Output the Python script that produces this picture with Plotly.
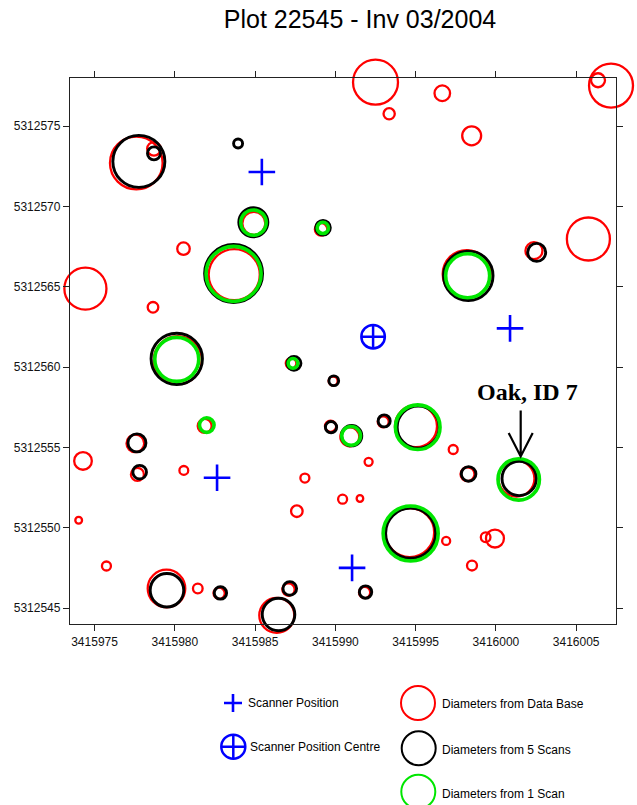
import plotly.graph_objects as go

# ---------------- data ----------------
# Diameters from Data Base (red)
db_x = [3415977.60, 3415978.70, 3415984.92, 3415989.11, 3415983.70, 3415980.54, 3415974.43,
        3415978.64, 3415980.18, 3415992.50, 3415993.35, 3415996.66, 3415998.49, 3416007.17,
        3416006.36, 3416005.76, 3416002.37, 3415998.18, 3415987.24, 3415981.86, 3415977.54,
        3415974.28, 3415977.67, 3415980.56, 3415988.10, 3415987.60, 3415974.01, 3415975.74,
        3415979.48, 3415981.43, 3415982.76, 3415987.08, 3415986.35, 3415989.86, 3415989.70,
        3415990.90, 3415992.98, 3415995.02, 3415997.34, 3415992.07, 3415998.23, 3416001.28,
        3415990.45, 3415991.53, 3415994.63, 3415996.90, 3415999.36, 3415999.94, 3415998.51,
        3415991.82]
db_y = [5312572.71, 5312573.59, 5312568.95, 5312568.58, 5312565.76, 5312567.38, 5312564.89,
        5312563.73, 5312560.44, 5312577.74, 5312575.77, 5312577.05, 5312574.40, 5312577.53,
        5312577.86, 5312567.98, 5312567.25, 5312565.80, 5312560.24, 5312556.35, 5312555.26,
        5312554.17, 5312553.33, 5312553.58, 5312553.10, 5312551.04, 5312550.48, 5312547.63,
        5312546.23, 5312546.23, 5312545.93, 5312546.16, 5312544.56, 5312559.14, 5312556.33,
        5312555.67, 5312556.60, 5312556.33, 5312554.88, 5312554.11, 5312553.34, 5312553.07,
        5312551.79, 5312551.83, 5312549.71, 5312549.19, 5312549.42, 5312549.34, 5312547.66,
        5312545.98]
db_d = [3.28, 0.85, 1.43, 0.78, 3.18, 0.78, 2.62,
        0.66, 2.99, 2.80, 0.70, 0.97, 1.18, 2.74,
        0.87, 2.68, 1.06, 2.99, 0.66, 0.87, 1.10,
        1.10, 0.81, 0.55, 0.56, 0.72, 0.42, 0.56,
        2.34, 0.60, 0.70, 0.77, 2.18, 0.56, 0.70,
        1.18, 0.69, 2.62, 0.56, 0.50, 0.87, 2.24,
        0.56, 0.41, 3.05, 0.50, 0.60, 1.12, 0.62,
        0.70]

# Diameters from 5 Scans (black)
s5_x = [3415977.76, 3415978.70, 3415983.94, 3415984.89, 3415989.23, 3415983.66, 3415980.12,
        3416002.54, 3415998.28, 3415987.42, 3415977.64, 3415977.81, 3415979.51, 3415982.84,
        3415987.16, 3415986.46, 3415989.90, 3415989.73, 3415991.01, 3415993.04, 3415995.16,
        3415998.30, 3416001.45, 3415994.69, 3415991.88]
s5_y = [5312572.81, 5312573.31, 5312573.92, 5312569.02, 5312568.68, 5312565.83, 5312560.52,
        5312567.15, 5312565.69, 5312560.24, 5312555.29, 5312553.47, 5312546.12, 5312545.95,
        5312546.23, 5312544.61, 5312559.16, 5312556.27, 5312555.74, 5312556.66, 5312556.27,
        5312553.36, 5312553.08, 5312549.67, 5312546.01]
s5_d = [3.24, 0.81, 0.56, 1.81, 0.91, 3.61, 3.20,
        1.12, 3.08, 0.87, 1.12, 0.85, 2.09, 0.77,
        0.85, 2.03, 0.61, 0.70, 1.27, 0.75, 2.62,
        0.91, 2.14, 3.12, 0.77]

# Diameters from 1 Scan (green)
s1_x = [3415984.90, 3415989.22, 3415983.66, 3415980.12, 3415998.24, 3415987.36,
        3415981.99, 3415990.98, 3415995.13, 3416001.42, 3415994.69]
s1_y = [5312569.00, 5312568.67, 5312565.81, 5312560.49, 5312565.69, 5312560.24,
        5312556.40, 5312555.73, 5312556.27, 5312553.02, 5312549.65]
s1_d = [1.58, 0.70, 3.43, 2.74, 2.74, 0.60,
        0.91, 1.17, 2.78, 2.58, 3.43]

# Scanner positions
scan_x = [3415985.42, 3416000.88, 3415982.63, 3415991.04]
scan_y = [5312572.15, 5312562.42, 5312553.12, 5312547.51]
centre_x = [3415992.35]
centre_y = [5312561.90]

oak_label = "Oak, ID 7"
oak_index = 22  # index in the 5-scan list

x_ticks = [3415975, 3415980, 3415985, 3415990, 3415995, 3416000, 3416005]
y_ticks = [5312545, 5312550, 5312555, 5312560, 5312565, 5312570, 5312575]

title_text = "Plot 22545 - Inv 03/2004"

# ---------------- layout geometry ----------------
W, H = 637, 805
ML, MR, MT, MB = 70, 21, 78, 181
x_range = [3415973.47, 3416007.48]
y_range = [5312544.02, 5312578.00]
plot_w = W - ML - MR
px_per_unit = plot_w / (x_range[1] - x_range[0])

RED = "#ff0000"
BLACK = "#000000"
GREEN = "#00e600"
BLUE = "#0000ff"
SANS = "Liberation Sans, Arial, sans-serif"


def circles(xs, ys, ds, color, width):
    return go.Scatter(
        x=xs, y=ys, mode="markers", cliponaxis=False, hoverinfo="skip",
        marker=dict(symbol="circle-open", size=[d * px_per_unit for d in ds], opacity=1,
                    color=color, line=dict(color=color, width=width)),
        showlegend=False)


fig = go.Figure()
fig.add_trace(circles(db_x, db_y, db_d, RED, 2.3))
fig.add_trace(circles(s5_x, s5_y, s5_d, BLACK, 2.9))
fig.add_trace(circles(s1_x, s1_y, s1_d, GREEN, 3.6))
fig.add_trace(go.Scatter(x=scan_x, y=scan_y, mode="markers", cliponaxis=False,
                         marker=dict(symbol="cross-thin-open", size=19, color=BLUE, opacity=1,
                                     line=dict(color=BLUE, width=2.6)),
                         showlegend=False, hoverinfo="skip"))
fig.add_trace(go.Scatter(x=centre_x, y=centre_y, mode="markers", cliponaxis=False,
                         marker=dict(symbol="circle-cross-open", size=23.5, color=BLUE,
                                     opacity=1, line=dict(color=BLUE, width=2.5)),
                         showlegend=False, hoverinfo="skip"))

axis_common = dict(showgrid=False, zeroline=False, showline=True, linecolor="#222",
                   linewidth=1.3, mirror="ticks", ticks="outside", ticklen=6,
                   tickcolor="#222", tickwidth=1.2, tickformat="d",
                   tickfont=dict(family=SANS, size=12, color="#111"))

fig.update_layout(
    width=W, height=H, margin=dict(l=ML, r=MR, t=MT, b=MB, autoexpand=False),
    paper_bgcolor="white", plot_bgcolor="white",
    title=dict(text=title_text, x=360 / W, xanchor="center", y=1 - 19 / H, yanchor="middle",
               font=dict(family=SANS, size=25, color="#000")),
    xaxis=dict(range=x_range, tickvals=x_ticks, **axis_common),
    yaxis=dict(range=y_range, tickvals=y_ticks, **axis_common),
)

# Oak annotation and arrow
oak_x, oak_y = s5_x[oak_index], s5_y[oak_index]
fig.add_annotation(x=oak_x, y=oak_y, xref="x", yref="y", text="<b>%s</b>" % oak_label,
                   showarrow=False, xshift=8, yshift=86, xanchor="center", yanchor="middle",
                   font=dict(family="Liberation Serif, Times New Roman, serif", size=24,
                             color="#000"))
fig.add_shape(type="path", xref="x", yref="y", xsizemode="pixel", ysizemode="pixel",
              xanchor=oak_x, yanchor=oak_y,
              path="M1.5,68 L1.5,22 M-10.5,45.5 L1.5,22 L13.5,45.5",
              line=dict(color="#000", width=2.2))

# ---------------- custom legend ----------------
def px2paper(px, py):
    return (px - ML) / plot_w, (H - MB - py) / (H - MT - MB)


def legend_circle(px, py, color, d=34, width=2):
    ax, ay = px2paper(px, py)
    fig.add_shape(type="circle", xref="paper", yref="paper", xsizemode="pixel",
                  ysizemode="pixel", xanchor=ax, yanchor=ay, x0=-d / 2, x1=d / 2,
                  y0=-d / 2, y1=d / 2, line=dict(color=color, width=width))


def legend_text(px, py, text):
    ax, ay = px2paper(px, py)
    fig.add_annotation(x=ax, y=ay, xref="paper", yref="paper", text=text, showarrow=False,
                       xanchor="left", yanchor="middle",
                       font=dict(family=SANS, size=12, color="#000"))


# Scanner Position
ax, ay = px2paper(233, 703)
fig.add_shape(type="path", xref="paper", yref="paper", xsizemode="pixel", ysizemode="pixel",
              xanchor=ax, yanchor=ay, path="M-9,0 L9,0 M0,-9 L0,9",
              line=dict(color=BLUE, width=2.6))
legend_text(246, 703, "Scanner Position")
# Scanner Position Centre
ax, ay = px2paper(233.3, 746.7)
fig.add_shape(type="path", xref="paper", yref="paper", xsizemode="pixel", ysizemode="pixel",
              xanchor=ax, yanchor=ay, path="M-12,0 L12,0 M0,-12 L0,12",
              line=dict(color=BLUE, width=2.5))
legend_circle(233.3, 746.7, BLUE, d=24, width=2.5)
legend_text(248, 746.7, "Scanner Position Centre")

legend_circle(418, 703, RED)
legend_text(440, 704, "Diameters from Data Base")
legend_circle(418.7, 748.3, BLACK)
legend_text(440, 750, "Diameters from 5 Scans")
legend_circle(418.3, 791.7, GREEN)
legend_text(440, 794, "Diameters from 1 Scan")

fig.write_html("out.html", config={"displayModeBar": False},
               post_script="document.body.style.margin='0';")
